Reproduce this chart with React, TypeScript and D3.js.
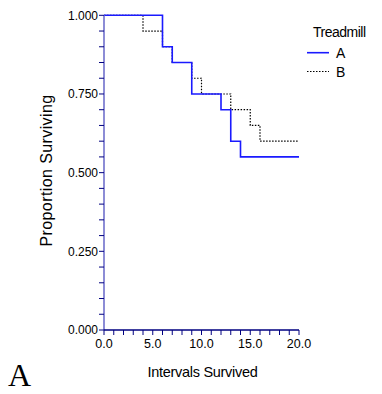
import React from "react";
import * as d3 from "d3";

// Step data: [time, survival] change points
const seriesNames = ["A", "B"];
const timesA = [0, 6, 7, 9, 12, 13, 14, 20];
const survA = [1.0, 0.9, 0.85, 0.75, 0.7, 0.6, 0.55, 0.55];
const timesB = [0, 4, 6, 7, 9, 10, 13, 15, 16, 20];
const survB = [1.0, 0.95, 0.9, 0.85, 0.8, 0.75, 0.7, 0.65, 0.6, 0.6];
const xTickLabels = [0, 5, 10, 15, 20];
const yTickLabels = [0, 0.25, 0.5, 0.75, 1.0];

export default function App() {
  const W = 382, H = 394;
  const x = d3.scaleLinear().domain([0, 20]).range([104, 299]);
  const y = d3.scaleLinear().domain([0, 1]).range([330, 15.3]);
  const line = d3.line<[number, number]>().x(d => x(d[0])).y(d => y(d[1])).curve(d3.curveStepAfter);
  const dataA: [number, number][] = timesA.map((t, i) => [t, survA[i]]);
  const dataB: [number, number][] = timesB.map((t, i) => [t, survB[i]]);
  const xMinor = d3.range(0, 21, 1);
  const yMinor = d3.range(0, 1.0001, 0.05);
  const font = "'Liberation Sans', Arial, sans-serif";

  return (
    <svg width={W} height={H} style={{ position: "absolute", left: 0, top: 0 }}>
      <rect width={W} height={H} fill="#fff" />
      {/* curves */}
      <path d={line(dataB) || ""} fill="none" stroke="#000" strokeWidth={1.2} strokeDasharray="1.5,1.5" />
      <path d={line(dataA) || ""} fill="none" stroke="#1a1aff" strokeWidth={1.6} />
      {/* y axis */}
      <line x1={x(0)} x2={x(0)} y1={y(0)} y2={y(1)} stroke="#7070cc" strokeWidth={1.6} />
      {yMinor.map((v, i) => (
        <line key={"ym" + i} x1={x(0) - 5} x2={x(0)} y1={y(v)} y2={y(v)} stroke="#000080" strokeWidth={1} />
      ))}
      {yTickLabels.map((v, i) => (
        <text key={"yl" + i} x={x(0) - 6} y={y(v) + 4.3} textAnchor="end" fontFamily={font} fontSize={12} fill="#000">
          {v.toFixed(3)}
        </text>
      ))}
      {/* x axis */}
      <line x1={x(0)} x2={x(20)} y1={y(0)} y2={y(0)} stroke="#000080" strokeWidth={1.3} />
      {xMinor.map((v, i) => (
        <line key={"xm" + i} x1={x(v)} x2={x(v)} y1={y(0)} y2={y(0) + 5} stroke="#000080" strokeWidth={1} />
      ))}
      {xTickLabels.map((v, i) => (
        <text key={"xl" + i} x={x(v)} y={347.5} textAnchor="middle" fontFamily={font} fontSize={12.5} fill="#000">
          {v.toFixed(1)}
        </text>
      ))}
      {/* axis titles */}
      <text x={202.5} y={377} textAnchor="middle" fontFamily={font} fontSize={14.5} letterSpacing={-0.3} fill="#000">
        Intervals Survived
      </text>
      <text transform={`translate(52,170.5) rotate(-90)`} textAnchor="middle" fontFamily={font} fontSize={16} letterSpacing={0.4} fill="#000">
        Proportion Surviving
      </text>
      {/* legend */}
      <text x={313} y={37} fontFamily={font} fontSize={14} letterSpacing={-0.5} fill="#000">Treadmill</text>
      <line x1={307} x2={329} y1={52.7} y2={52.7} stroke="#1a1aff" strokeWidth={1.6} />
      <text x={336} y={58} fontFamily={font} fontSize={14} fill="#000">{seriesNames[0]}</text>
      <line x1={307} x2={329} y1={71.5} y2={71.5} stroke="#000" strokeWidth={1.2} strokeDasharray="1.5,1.5" />
      <text x={336} y={76.5} fontFamily={font} fontSize={14} fill="#000">{seriesNames[1]}</text>
      {/* panel label */}
      <text x={8} y={386} fontFamily="'Liberation Serif', 'Times New Roman', serif" fontSize={32} fill="#000">A</text>
    </svg>
  );
}
